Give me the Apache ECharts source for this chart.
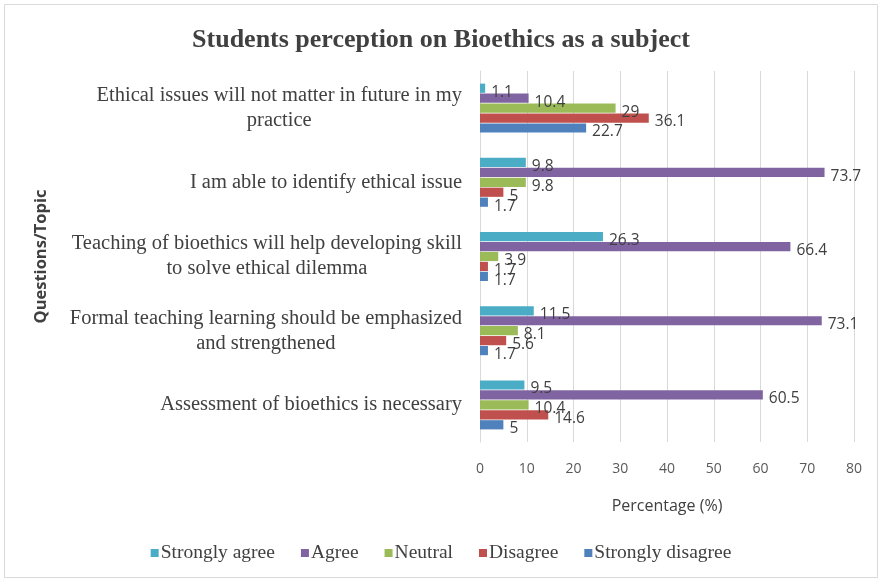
<!DOCTYPE html>
<html><head><meta charset="utf-8">
<script src="https://cdn.jsdelivr.net/npm/echarts@6/dist/echarts.min.js"></script>
<style>html,body{margin:0;padding:0;background:#fff}#c{width:882px;height:582px}</style>
</head><body><div id="c"></div>
<script>
var categories = [
  "Ethical issues will not matter in future in my\npractice",
  "I am able to identify ethical issue",
  "Teaching of bioethics will help developing skill\nto solve ethical dilemma",
  "Formal teaching learning should be emphasized\nand strengthened",
  "Assessment of bioethics is necessary"
];
var seriesNames = ["Strongly agree", "Agree", "Neutral", "Disagree", "Strongly disagree"];
var stronglyAgree = [1.1, 9.8, 26.3, 11.5, 9.5];
var agree = [10.4, 73.7, 66.4, 73.1, 60.5];
var neutral = [29, 9.8, 3.9, 8.1, 10.4];
var disagree = [36.1, 5, 1.7, 5.6, 14.6];
var stronglyDisagree = [22.7, 1.7, 1.7, 1.7, 5];
var xTicks = [0, 10, 20, 30, 40, 50, 60, 70, 80];

var colors = ["#4BACC6", "#8064A2", "#9BBB59", "#C0504D", "#4F81BD"];
var values = [stronglyAgree, agree, neutral, disagree, stronglyDisagree];

var chart = echarts.init(document.getElementById('c'));
var series = seriesNames.map(function (n, i) {
  return {
    name: n, type: 'bar', data: values[i],
    barGap: '8%', barCategoryGap: '34%',
    itemStyle: { color: colors[i] },
    label: { show: true, position: 'right', distance: 6, offset: [0, 4],
      color: '#404040', fontSize: 15.5, fontFamily: 'Open Sans' }
  };
});
chart.setOption({
  animation: false,
  color: colors,
  title: { text: 'Students perception on Bioethics as a subject', left: 'center', top: 22,
    textStyle: { fontFamily: 'Liberation Serif', fontWeight: 'bold', fontSize: 26, color: '#404040' } },
  legend: { bottom: 14, left: 'center', itemWidth: 8, itemHeight: 8, itemGap: 26,
    icon: 'rect', data: seriesNames,
    textStyle: { fontFamily: 'Liberation Serif', fontSize: 19.5, color: '#404040', padding: [0, 0, 0, -3] } },
  grid: { left: 480, right: 28, top: 71, bottom: 140, containLabel: false },
  graphic: [{ type: 'rect', shape: { x: 4.5, y: 4.5, width: 873, height: 573 },
    style: { fill: 'none', stroke: '#d9d9d9', lineWidth: 1 }, silent: true }],
  xAxis: {
    type: 'value', min: 0, max: 80, interval: 10,
    name: 'Percentage (%)', nameLocation: 'middle', nameGap: 56,
    nameTextStyle: { fontFamily: 'Open Sans', fontSize: 16, color: '#404040' },
    axisLine: { show: false }, axisTick: { show: false },
    axisLabel: { color: '#595959', fontFamily: 'Open Sans', fontSize: 14, margin: 20,
      formatter: function (v) { return xTicks.indexOf(v) >= 0 ? String(v) : ''; } },
    splitLine: { show: true, lineStyle: { color: '#d9d9d9' } }
  },
  yAxis: {
    type: 'category', data: categories, inverse: true,
    name: 'Questions/Topic', nameLocation: 'middle', nameGap: 430, nameRotate: 90,
    nameTextStyle: { fontFamily: 'Open Sans', fontSize: 16.5, fontWeight: 'bold', color: '#404040' },
    axisLine: { show: true, lineStyle: { color: '#d9d9d9' } }, axisTick: { show: false },
    axisLabel: { margin: 18, color: '#404040', fontFamily: 'Liberation Serif', fontSize: 20.5,
      lineHeight: 25,
      formatter: function (v) { return v.split('\n').map(function (l) { return '{c|' + l + '}'; }).join('\n'); },
      rich: { c: { align: 'center', fontFamily: 'Liberation Serif', fontSize: 20.5, color: '#404040', lineHeight: 25 } } }
  },
  series: series
});
</script></body></html>
